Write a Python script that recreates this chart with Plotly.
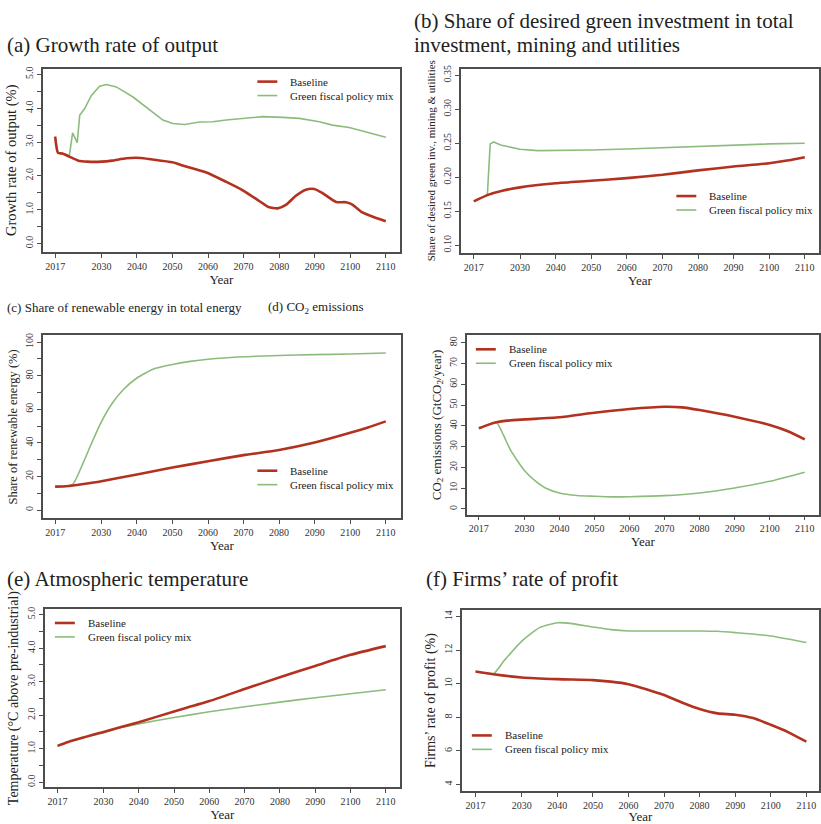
import plotly.graph_objects as go

W, H = 821, 824
RED = "#b3321f"
GREEN = "#8cbc7c"
AXC = "#4d4d4d"
FONT = "Liberation Serif"

# ---------------- data ----------------
years = [2017, 2030, 2040, 2050, 2060, 2070, 2080, 2090, 2100, 2110]
year_labels = ["2017", "2030", "2040", "2050", "2060", "2070", "2080", "2090", "2100", "2110"]
series_names = ["Baseline", "Green fiscal policy mix"]

# (a) Growth rate of output (%)
a_base_x = [2017, 2017.8, 2019, 2021, 2023.5, 2026, 2030, 2033, 2037, 2041, 2044, 2050, 2054,
            2059.5, 2065, 2070, 2074.5, 2077, 2079.6, 2082, 2084.7, 2087.5, 2089.9, 2092.2,
            2096, 2098.8, 2100.6, 2103.4, 2106.2, 2110]
a_base_y = [3.16, 2.68, 2.66, 2.57, 2.45, 2.42, 2.42, 2.45, 2.52, 2.53, 2.49, 2.40, 2.27,
            2.10, 1.83, 1.56, 1.25, 1.08, 1.04, 1.15, 1.41, 1.59, 1.61, 1.49,
            1.23, 1.22, 1.15, 0.92, 0.80, 0.66]
a_green_x = [2017, 2017.8, 2019, 2021, 2021.9, 2023.2, 2023.9, 2025.3, 2027.2, 2029.5, 2031.4,
             2034.2, 2038.9, 2043.6, 2047.3, 2050.1, 2053.4, 2057.6, 2061.3, 2065.1, 2070.7,
             2075.4, 2081, 2085.7, 2091.3, 2095, 2099.7, 2103.4, 2110]
a_green_y = [3.16, 2.68, 2.66, 2.60, 3.27, 2.98, 3.79, 3.99, 4.38, 4.65, 4.70,
             4.63, 4.33, 3.94, 3.65, 3.55, 3.52, 3.59, 3.60, 3.65, 3.70,
             3.75, 3.73, 3.70, 3.60, 3.50, 3.43, 3.33, 3.14]

# (b) Share of desired green investment
b_base_x = [2017, 2021, 2025, 2030, 2040, 2050, 2060, 2070, 2080, 2090, 2100, 2105, 2110]
b_base_y = [0.1645, 0.174, 0.180, 0.185, 0.191, 0.1947, 0.1986, 0.2035, 0.210, 0.2157, 0.2206, 0.2245, 0.2294]
b_green_x = [2017, 2020.8, 2021.6, 2022.6, 2024.5, 2030, 2035, 2040, 2050, 2060, 2070, 2080, 2090, 2100, 2110]
b_green_y = [0.1645, 0.1735, 0.249, 0.2519, 0.2475, 0.2411, 0.2392, 0.2392, 0.2400, 0.2416, 0.2435, 0.2455, 0.2475, 0.2490, 0.2500]

# (c) Share of renewable energy (%)
c_base_x = [2017, 2020, 2022, 2025, 2030, 2040, 2050, 2060, 2070, 2080, 2090, 2100, 2105, 2110]
c_base_y = [14.0, 14.2, 14.6, 15.5, 17.2, 21.2, 25.3, 29.1, 32.7, 35.8, 40.2, 46.0, 49.2, 52.8]
c_green_x = [2017, 2020, 2022, 2025, 2027, 2030, 2033, 2036, 2040, 2045, 2050, 2055, 2060, 2070, 2080, 2090, 2100, 2110]
c_green_y = [14.0, 14.2, 15.5, 28.7, 38.6, 52.5, 63.4, 71.3, 78.6, 84.2, 86.7, 88.5, 89.8, 91.3, 92.0, 92.5, 92.9, 93.5]

# (d) CO2 emissions (GtCO2/year)
d_base_x = [2017, 2020, 2022, 2025, 2030, 2040, 2050, 2060, 2070, 2075, 2080, 2090, 2100, 2105, 2110]
d_base_y = [38.8, 40.7, 41.7, 42.5, 43.1, 44.1, 46.3, 48.1, 49.2, 48.9, 47.6, 44.4, 40.4, 37.5, 33.5]
d_green_x = [2017, 2020, 2022, 2024, 2026, 2028, 2030, 2033, 2036, 2040, 2045, 2050, 2055, 2060, 2070, 2080, 2090, 2100, 2110]
d_green_y = [38.8, 40.7, 41.7, 35.6, 28.4, 23.2, 18.5, 13.6, 10.1, 7.7, 6.5, 6.1, 5.8, 5.9, 6.4, 7.7, 10.1, 13.3, 17.7]

# (e) Atmospheric temperature (degC above pre-industrial)
e_base_x = [2017, 2020, 2030, 2040, 2050, 2060, 2070, 2080, 2090, 2100, 2110]
e_base_y = [1.085, 1.20, 1.50, 1.79, 2.11, 2.42, 2.78, 3.13, 3.47, 3.80, 4.06]
e_green_x = [2017, 2020, 2030, 2035, 2040, 2050, 2060, 2070, 2080, 2090, 2100, 2110]
e_green_y = [1.085, 1.20, 1.48, 1.63, 1.74, 1.93, 2.10, 2.25, 2.39, 2.52, 2.64, 2.76]

# (f) Firms' rate of profit (%)
f_base_x = [2017, 2022, 2030, 2040, 2050, 2055, 2060, 2065, 2070, 2075, 2080, 2085, 2090, 2095, 2100, 2105, 2110]
f_base_y = [10.73, 10.57, 10.38, 10.28, 10.22, 10.13, 9.98, 9.68, 9.33, 8.89, 8.50, 8.24, 8.16, 7.96, 7.56, 7.11, 6.55]
f_green_x = [2017, 2022, 2025, 2030, 2035, 2040, 2043, 2050, 2055, 2060, 2070, 2080, 2085, 2090, 2100, 2110]
f_green_y = [10.73, 10.60, 11.37, 12.55, 13.35, 13.64, 13.62, 13.39, 13.23, 13.15, 13.15, 13.15, 13.13, 13.05, 12.85, 12.46]

# y ticks (major labelled ticks, minor unlabelled ticks)
a_ticks = [0, 1, 2, 3, 4, 5]
a_labels = ["0.0", "1.0", "2.0", "3.0", "4.0", "5.0"]
a_minor = [0.5, 1.5, 2.5, 3.5, 4.5]
b_ticks = [0.10, 0.15, 0.20, 0.25, 0.30, 0.35]
b_labels = ["0.10", "0.15", "0.20", "0.25", "0.30", "0.35"]
c_ticks = [0, 20, 40, 60, 80, 100]
c_labels = ["0", "20", "40", "60", "80", "100"]
c_minor = [10, 30, 50, 70, 90]
d_ticks = [0, 10, 20, 30, 40, 50, 60, 70, 80]
d_labels = ["0", "10", "20", "30", "40", "50", "60", "70", "80"]
e_ticks = a_ticks
e_labels = a_labels
e_minor = a_minor
f_ticks = [4, 6, 8, 10, 12, 14]
f_labels = ["4", "6", "8", "10", "12", "14"]

# ---------------- layout helpers (pixel geometry) ----------------
def px(x):
    return x / W

def py(y):
    return 1 - y / H

panels = [
    dict(box=(43, 65, 401, 249), xr=(2013.55, 2114.0), yr=(-0.244, 5.168), tv=a_ticks, tt=a_labels, mv=a_minor,
         yt="Growth rate of output (%)", yts=14.5, leg=(258, 78), data=(a_base_x, a_base_y, a_green_x, a_green_y),
         glin=True),
    dict(box=(462, 65, 821, 250), xr=(2013.36, 2114.0), yr=(0.0887, 0.3598), tv=b_ticks, tt=b_labels, mv=None,
         yt="Share of desired green inv., mining & utilities", yts=11, leg=(678, 193),
         data=(b_base_x, b_base_y, b_green_x, b_green_y), glin=True),
    dict(box=(43, 333, 402, 517), xr=(2013.55, 2114.3), yr=(-4.99, 103.98), tv=c_ticks, tt=c_labels, mv=c_minor,
         yt="Share of renewable energy (%)", yts=12.5, leg=(258, 469), data=(c_base_x, c_base_y, c_green_x, c_green_y),
         glin=False),
    dict(box=(468, 333, 821, 513), xr=(2013.58, 2114.07), yr=(-2.68, 83.54), tv=d_ticks, tt=d_labels, mv=None,
         yt="CO<sub>2</sub> emissions (GtCO<sub>2</sub>/year)", yts=13, leg=(477, 347),
         data=(d_base_x, d_base_y, d_green_x, d_green_y), glin=False),
    dict(box=(45, 608, 401, 787), xr=(2013.41, 2114.04), yr=(-0.148, 5.166), tv=e_ticks, tt=e_labels, mv=e_minor,
         yt="Temperature (°C above pre-industrial)", yts=14, leg=(55, 622),
         data=(e_base_x, e_base_y, e_green_x, e_green_y), glin=False),
    dict(box=(463, 609, 821, 791), xr=(2013.16, 2113.56), yr=(3.602, 14.398), tv=f_ticks, tt=f_labels, mv=None,
         yt="Firms’ rate of profit (%)", yts=14, leg=(473, 735),
         data=(f_base_x, f_base_y, f_green_x, f_green_y), glin=False),
]

titles = [
    ("(a) Growth rate of output", 5, 41, 21),
    ("(b) Share of desired green investment in total", 413, 17, 21),
    ("investment, mining and utilities", 413, 41, 21),
    ("(c) Share of renewable energy in total energy", 5, 305, 13),
    ("(d) CO<sub>2</sub> emissions", 267, 305, 13),
    ("(e) Atmospheric temperature", 5, 578, 21),
    ("(f) Firms’ rate of profit", 425, 578, 21),
]

fig = go.Figure()
shapes = []
annotations = []

for i, p in enumerate(panels, start=1):
    sfx = "" if i == 1 else str(i)
    bx, by, gx, gy = p["data"]
    fig.add_trace(go.Scatter(x=gx, y=gy, mode="lines", name=series_names[1], showlegend=False,
                             line=dict(color=GREEN, width=1.6, shape="linear" if p["glin"] else "spline", smoothing=0.6),
                             xaxis="x" + sfx, yaxis="y" + sfx))
    fig.add_trace(go.Scatter(x=bx, y=by, mode="lines", name=series_names[0], showlegend=False,
                             line=dict(color=RED, width=2.6, shape="spline", smoothing=0.6),
                             xaxis="x" + sfx, yaxis="y" + sfx))
    l, t, r, b = p["box"]
    common = dict(showline=True, linecolor=AXC, linewidth=1.5, mirror=True, ticks="outside",
                  ticklen=4, tickwidth=1, tickcolor=AXC, showgrid=False, zeroline=False,
                  tickfont=dict(family=FONT, size=10, color="#333"))
    fig.layout["xaxis" + sfx] = dict(domain=[px(l), px(r)], range=list(p["xr"]), anchor="y" + sfx,
                                     tickmode="array", tickvals=years, ticktext=year_labels,
                                     title=dict(text="Year", font=dict(family=FONT, size=13, color="#222"), standoff=2),
                                     **common)
    ydict = dict(domain=[py(b), py(t)], range=list(p["yr"]), anchor="x" + sfx,
                 tickmode="array", tickvals=p["tv"], ticktext=p["tt"], tickangle=-90,
                 title=dict(text=p["yt"], font=dict(family=FONT, size=p["yts"], color="#222"), standoff=4),
                 **common)
    if p["mv"] is not None:
        ydict["minor"] = dict(tickmode="array", tickvals=p["mv"], ticks="outside", ticklen=4,
                              tickwidth=1, tickcolor=AXC, showgrid=False)
    fig.layout["yaxis" + sfx] = ydict
    # legend (drawn in-panel, R style)
    lx, ly = p["leg"]
    for k, (nm, col, wd) in enumerate([(series_names[0], RED, 2.6), (series_names[1], GREEN, 1.6)]):
        yy = ly + k * 14
        shapes.append(dict(type="line", xref="paper", yref="paper", x0=px(lx), x1=px(lx + 20),
                           y0=py(yy), y1=py(yy), line=dict(color=col, width=wd)))
        annotations.append(dict(text=nm, xref="paper", yref="paper", x=px(lx + 31), y=py(yy),
                                xanchor="left", yanchor="middle", showarrow=False,
                                font=dict(family=FONT, size=11, color="#222")))

for txt, x, y, s in titles:
    annotations.append(dict(text=txt, xref="paper", yref="paper", x=px(x), y=py(y), xanchor="left",
                            yanchor="middle", align="left", showarrow=False,
                            font=dict(family=FONT, size=s, color="#222")))

fig.update_layout(width=W, height=H, margin=dict(l=0, r=0, t=0, b=0), paper_bgcolor="white",
                  plot_bgcolor="white", shapes=shapes, annotations=annotations, showlegend=False)

fig.write_html("out.html", config={"displayModeBar": False},
               post_script="document.body.style.margin='0px';")
